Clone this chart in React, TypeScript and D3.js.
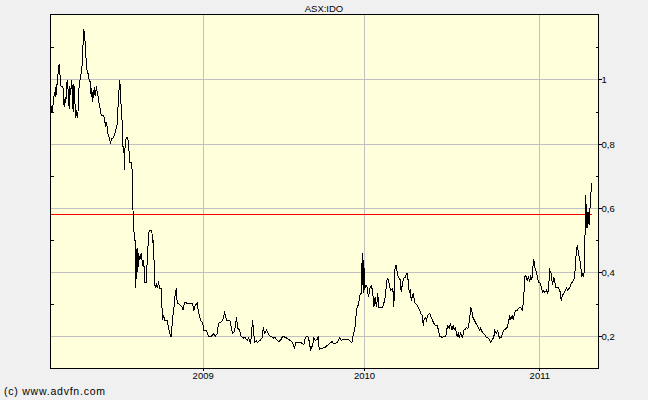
import React from "react";
import * as d3 from "d3";

const title = "ASX:IDO";
const copyright = "(c) www.advfn.com";

// trading-session index (x) and close price (y)
const sessions = [
  1, 2, 3, 4, 6, 7, 8, 9, 10, 12, 13, 14, 15, 16, 18, 19, 20, 21, 22, 23, 24, 25, 27, 28, 29, 30, 32, 33, 34, 35,
  36, 37, 38, 39, 41, 42, 43, 45, 46, 47, 48, 49, 50, 51, 52, 53, 54, 56, 57, 58, 60, 61, 62, 63, 64, 65, 66, 67, 68, 69,
  70, 72, 73, 75, 76, 78, 80, 81, 83, 84, 86, 87, 89, 90, 92, 94, 97, 99, 100, 102, 103, 104, 105, 106, 108, 109, 110, 111, 112, 114,
  116, 117, 118, 119, 122, 123, 124, 126, 127, 128, 129, 130, 131, 132, 134, 136, 138, 139, 140, 141, 144, 145, 147, 148, 152, 153, 154, 155, 156, 157,
  159, 160, 162, 164, 166, 167, 168, 170, 171, 175, 177, 180, 181, 183, 184, 186, 187, 189, 190, 192, 195, 198, 199, 201, 202, 205, 210, 213, 215, 217,
  220, 222, 225, 228, 230, 234, 237, 241, 245, 247, 250, 252, 255, 258, 260, 261, 264, 267, 269, 270, 273, 275, 277, 279, 281, 284, 285, 288, 290, 292,
  295, 297, 300, 301, 303, 305, 306, 309, 310, 314, 318, 319, 321, 324, 326, 327, 330, 333, 335, 337, 340, 342, 345, 348, 350, 352, 355, 357, 360, 363,
  365, 366, 368, 370, 375, 378, 380, 382, 384, 387, 389, 390, 393, 395, 397, 400, 402, 403, 405, 408, 410, 412, 415, 417, 420, 423, 424, 427, 430, 432,
  434, 436, 440, 445, 449, 451, 453, 454, 456, 457, 459, 461, 462, 464, 466, 467, 468, 469, 470, 471, 473, 475, 477, 479, 481, 483, 484, 485, 487, 489,
  491, 492, 495, 498, 500, 502, 505, 507, 510, 513, 514, 515, 516, 517, 519, 520, 522, 525, 526, 528, 530, 532, 534, 535, 537, 538, 540, 541, 544, 546,
  547, 550, 552, 554, 555, 558, 559, 560, 562, 564, 566, 569, 571, 573, 575, 577, 580, 582, 584, 588, 591, 593, 594, 596, 598, 600, 602, 604, 606, 607,
  610, 612, 613, 615, 618, 620, 622, 624, 626, 627, 629, 630, 632, 633, 636, 638, 640, 642, 644, 645, 648, 650, 652, 654, 657, 659, 660, 663, 665, 666,
  669, 671, 672, 674, 676, 678, 680, 682, 685, 687, 689, 690, 693, 694, 696, 698, 700, 702, 705, 708, 710, 711, 712, 714, 715, 717, 719, 720, 722, 723,
  725, 726, 728, 730, 732, 735, 738, 740, 741, 744, 746, 747, 749, 751, 753, 755, 758, 761, 764, 766, 768, 771, 774, 776, 779, 781, 783, 786, 788, 790,
  792, 794, 795, 797, 798, 800, 801, 802, 803, 804, 805, 806, 807, 808, 809, 810, 812,
];

const closes = [
  0.901, 0.92, 0.901, 0.926, 0.963, 0.948, 0.979, 0.954, 0.995, 1.032, 1.051, 1.026, 0.985, 0.979, 0.979, 0.973, 0.923, 0.92, 0.948, 0.929, 0.97, 1.001, 0.954, 0.91, 0.982, 0.954, 1.001, 0.938, 0.901, 0.988,
  0.963, 0.913, 0.882, 0.907, 0.882, 0.954, 0.982, 1.01, 1.02, 1.032, 1.07, 1.12, 1.16, 1.132, 1.12, 1.079, 1.038, 1.023, 1.013, 1.001, 0.992, 0.948, 0.976, 0.932, 0.97, 0.945, 0.979, 0.951, 0.963, 0.982,
  0.96, 0.945, 0.923, 0.907, 0.892, 0.888, 0.888, 0.876, 0.854, 0.87, 0.835, 0.826, 0.813, 0.804, 0.817, 0.82, 0.835, 0.854, 0.863, 0.948, 0.973, 1.001, 0.954, 0.917, 0.851, 0.773, 0.795, 0.72, 0.807, 0.82,
  0.82, 0.795, 0.773, 0.742, 0.742, 0.667, 0.573, 0.501, 0.501, 0.351, 0.46, 0.476, 0.401, 0.46, 0.438, 0.46, 0.429, 0.417, 0.438, 0.37, 0.37, 0.438, 0.51, 0.532, 0.532, 0.492, 0.501, 0.46, 0.385, 0.351,
  0.367, 0.351, 0.367, 0.351, 0.351, 0.304, 0.251, 0.267, 0.251, 0.251, 0.229, 0.201, 0.201, 0.251, 0.273, 0.304, 0.335, 0.351, 0.304, 0.304, 0.298, 0.292, 0.282, 0.307, 0.307, 0.304, 0.304, 0.304, 0.282, 0.298,
  0.304, 0.276, 0.251, 0.245, 0.22, 0.22, 0.201, 0.201, 0.21, 0.201, 0.21, 0.242, 0.245, 0.251, 0.263, 0.279, 0.251, 0.251, 0.251, 0.242, 0.21, 0.213, 0.229, 0.26, 0.226, 0.22, 0.204, 0.198, 0.195, 0.198,
  0.188, 0.195, 0.182, 0.195, 0.251, 0.21, 0.182, 0.188, 0.182, 0.188, 0.198, 0.229, 0.21, 0.22, 0.213, 0.207, 0.201, 0.198, 0.195, 0.198, 0.188, 0.185, 0.188, 0.201, 0.201, 0.198, 0.195, 0.192, 0.188, 0.182,
  0.17, 0.163, 0.182, 0.182, 0.182, 0.179, 0.176, 0.195, 0.201, 0.198, 0.173, 0.16, 0.173, 0.195, 0.188, 0.192, 0.201, 0.16, 0.163, 0.163, 0.167, 0.167, 0.173, 0.176, 0.182, 0.185, 0.179, 0.179, 0.182, 0.188,
  0.198, 0.188, 0.192, 0.192, 0.188, 0.182, 0.185, 0.207, 0.22, 0.232, 0.285, 0.298, 0.298, 0.329, 0.335, 0.42, 0.46, 0.335, 0.438, 0.345, 0.36, 0.354, 0.323, 0.351, 0.36, 0.345, 0.323, 0.292, 0.323, 0.292,
  0.335, 0.292, 0.292, 0.292, 0.304, 0.323, 0.382, 0.376, 0.345, 0.351, 0.338, 0.292, 0.367, 0.423, 0.423, 0.398, 0.385, 0.376, 0.338, 0.367, 0.382, 0.385, 0.398, 0.398, 0.367, 0.338, 0.345, 0.313, 0.335, 0.313,
  0.304, 0.298, 0.288, 0.282, 0.273, 0.267, 0.235, 0.251, 0.26, 0.251, 0.267, 0.273, 0.26, 0.251, 0.242, 0.235, 0.235, 0.22, 0.201, 0.198, 0.201, 0.201, 0.22, 0.235, 0.226, 0.242, 0.22, 0.235, 0.22, 0.229,
  0.201, 0.21, 0.195, 0.21, 0.198, 0.22, 0.223, 0.229, 0.226, 0.235, 0.257, 0.292, 0.282, 0.263, 0.251, 0.242, 0.235, 0.226, 0.22, 0.226, 0.213, 0.21, 0.204, 0.198, 0.195, 0.188, 0.182, 0.192, 0.198, 0.22,
  0.21, 0.22, 0.204, 0.195, 0.198, 0.21, 0.22, 0.223, 0.229, 0.245, 0.267, 0.251, 0.267, 0.251, 0.273, 0.282, 0.282, 0.288, 0.292, 0.282, 0.323, 0.385, 0.392, 0.385, 0.376, 0.385, 0.37, 0.392, 0.376, 0.407,
  0.442, 0.417, 0.407, 0.392, 0.37, 0.367, 0.338, 0.345, 0.338, 0.345, 0.335, 0.351, 0.407, 0.398, 0.36, 0.385, 0.354, 0.354, 0.345, 0.313, 0.329, 0.338, 0.351, 0.345, 0.354, 0.367, 0.37, 0.382, 0.445, 0.485,
  0.46, 0.438, 0.429, 0.385, 0.398, 0.385, 0.438, 0.538, 0.642, 0.538, 0.589, 0.538, 0.589, 0.548, 0.59, 0.632, 0.679,
];

const referencePrice = 0.581;
const yearTickSessions = [229, 471, 734];
const yearTickLabels = ["2009", "2010", "2011"];
const priceMajorTicks = [0.2, 0.4, 0.6, 0.8, 1.0];
const priceMajorLabels = ["0,2", "0,4", "0,6", "0,8", "1"];
const priceMinorTicks = [0.3, 0.5, 0.7, 0.9, 1.1];
const sessionDomain = [0, 822];
const priceDomain = [0.101, 1.204];

export default function App() {
  const W = 648;
  const H = 400;
  const left = 50.5;
  const right = 598.5;
  const top = 14.5;
  const bottom = 368.5;

  const x = d3.scaleLinear().domain(sessionDomain).range([left, right]);
  const y = d3.scaleLinear().domain(priceDomain).range([bottom, top]);

  const points = sessions.map((s, i) => [s, closes[i]] as [number, number]);
  const line = d3
    .line<[number, number]>()
    .x((d) => x(d[0]))
    .y((d) => y(d[1]));

  const font = "'Liberation Sans', Arial, sans-serif";
  const snap = (v: number) => Math.round(v - 0.5) + 0.5;

  return (
    <svg
      width={W}
      height={H}
      style={{ position: "absolute", left: 0, top: 0, display: "block" }}
    >
      <rect x={0} y={0} width={W} height={H} fill="#f0f0f0" />
      <rect x={left} y={top} width={right - left} height={bottom - top} fill="#ffffdc" />

      {/* grid */}
      {priceMajorTicks.map((t) => (
        <line
          key={"gy" + t}
          x1={left}
          x2={right}
          y1={snap(y(t))}
          y2={snap(y(t))}
          stroke="#c0c0c0"
          strokeWidth={1}
          shapeRendering="crispEdges"
        />
      ))}
      {yearTickSessions.map((s) => (
        <line
          key={"gx" + s}
          x1={snap(x(s))}
          x2={snap(x(s))}
          y1={top}
          y2={bottom}
          stroke="#c0c0c0"
          strokeWidth={1}
          shapeRendering="crispEdges"
        />
      ))}

      {/* reference line */}
      <line
        x1={left}
        x2={x(sessions[sessions.length - 1])}
        y1={snap(y(referencePrice))}
        y2={snap(y(referencePrice))}
        stroke="#ff0000"
        strokeWidth={1}
        shapeRendering="crispEdges"
      />

      {/* price line */}
      <path
        d={line(points) || ""}
        fill="none"
        stroke="#000"
        strokeWidth={1}
        shapeRendering="crispEdges"
      />

      {/* frame */}
      <rect
        x={left}
        y={top}
        width={right - left}
        height={bottom - top}
        fill="none"
        stroke="#000"
        strokeWidth={1}
        shapeRendering="crispEdges"
      />

      {/* right axis */}
      {priceMajorTicks.map((t, i) => (
        <g key={"ym" + t}>
          <line
            x1={right}
            x2={right + 3}
            y1={snap(y(t))}
            y2={snap(y(t))}
            stroke="#000"
            shapeRendering="crispEdges"
          />
          <text
            x={right + 3}
            y={y(t) + 3.5}
            fontFamily={font}
            fontSize={9.5}
            fill="#000"
          >
            {priceMajorLabels[i]}
          </text>
        </g>
      ))}
      {priceMinorTicks.map((t) => (
        <g key={"yn" + t}>
          <line
            x1={right - 3}
            x2={right}
            y1={snap(y(t))}
            y2={snap(y(t))}
            stroke="#000"
            shapeRendering="crispEdges"
          />
          <line
            x1={left}
            x2={left + 3}
            y1={snap(y(t))}
            y2={snap(y(t))}
            stroke="#000"
            shapeRendering="crispEdges"
          />
        </g>
      ))}

      {/* bottom axis */}
      {yearTickSessions.map((s, i) => (
        <g key={"xt" + s}>
          <line
            x1={snap(x(s))}
            x2={snap(x(s))}
            y1={bottom}
            y2={bottom + 2}
            stroke="#000"
            shapeRendering="crispEdges"
          />
          <text
            x={x(s)}
            y={378.5}
            textAnchor="middle"
            fontFamily={font}
            fontSize={9.5}
            fill="#000"
          >
            {yearTickLabels[i]}
          </text>
        </g>
      ))}

      <text x={324} y={11.5} textAnchor="middle" fontFamily={font} fontSize={9.5} fill="#000">
        {title}
      </text>
      <text
        x={4}
        y={395}
        fontFamily={font}
        fontSize={10.5}
        fill="#000"
        textLength={101}
        lengthAdjust="spacing"
      >
        {copyright}
      </text>
    </svg>
  );
}
